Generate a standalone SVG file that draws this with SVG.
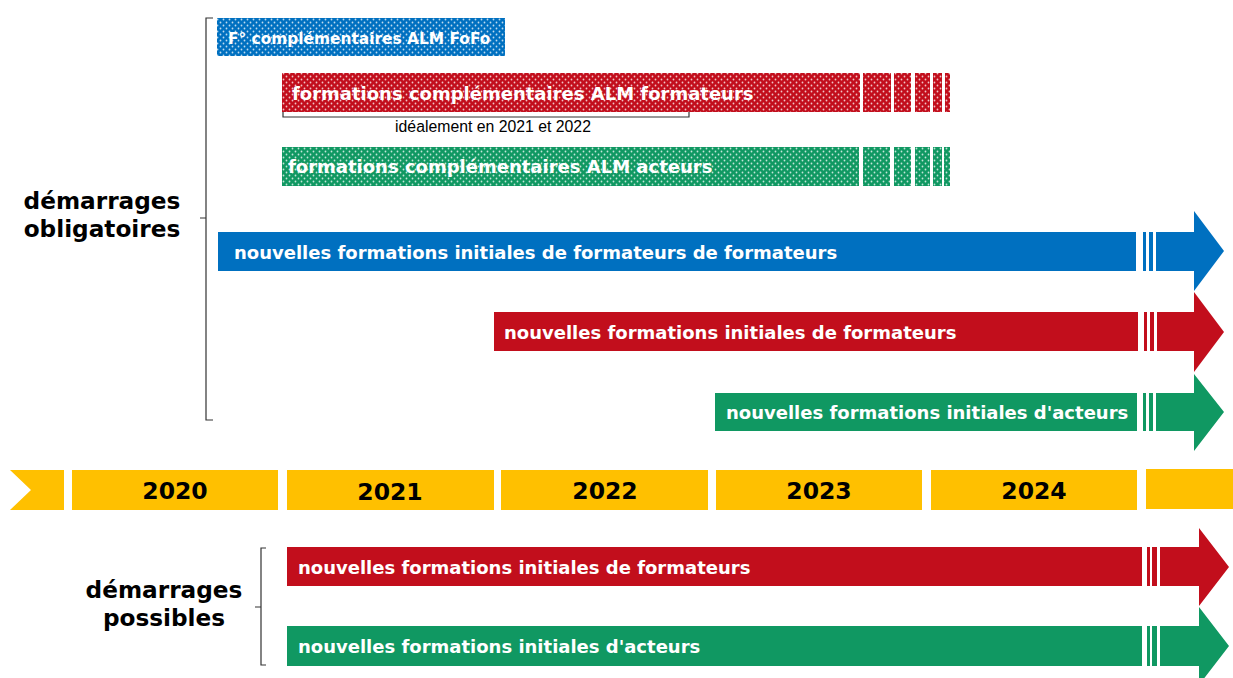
<svg xmlns="http://www.w3.org/2000/svg" width="1233" height="678" viewBox="0 0 1233 678">
<style>
.bar{font-family:"DejaVu Sans",Verdana,sans-serif;font-weight:bold;fill:#fff;font-size:18px}
.small{font-size:15.4px}
.lbl{font-family:"DejaVu Sans",Verdana,sans-serif;font-weight:bold;fill:#000;font-size:23.2px;text-anchor:middle}
.yr{font-family:"DejaVu Sans",Verdana,sans-serif;font-weight:bold;fill:#000;font-size:23.5px;text-anchor:middle}
.note{font-family:"Liberation Sans",Arial,sans-serif;fill:#000;font-size:15.8px;text-anchor:middle}
.br{fill:none;stroke:#333;stroke-width:1.2}
.blue{fill:#0070C0}.red{fill:#C20E1C}.green{fill:#109862}.yel{fill:#FFC000}
</style>
<defs>
<pattern id="dots" width="6" height="6" patternUnits="userSpaceOnUse">
<circle cx="1.5" cy="1.5" r="0.9" fill="#fff" fill-opacity="0.75"/>
<circle cx="4.5" cy="4.5" r="0.9" fill="#fff" fill-opacity="0.75"/>
</pattern>
</defs>
<g id="brackets">
<path class="br" d="M213,18 H206 V420 H213 M206,218 H200"/>
<path class="br" d="M266,548 H261 V665 H266 M261,607 H255"/>
<path class="br" d="M283,110 V117 H689 V110"/>
</g>
<g id="labels">
<text class="lbl" x="102" y="209">démarrages</text>
<text class="lbl" x="102" y="237">obligatoires</text>
<text class="lbl" x="164" y="598">démarrages</text>
<text class="lbl" x="164" y="626">possibles</text>
<text class="note" x="493" y="132">idéalement en 2021 et 2022</text>
</g>
<g id="fofo">
<rect class="blue" x="217" y="18" width="288" height="38"/>
<rect fill="url(#dots)" x="217" y="18" width="288" height="38"/>
<text class="bar small" x="228" y="44">F° complémentaires ALM FoFo</text>
</g>
<g id="compl-formateurs">
<g class="red">
<rect x="282" y="73" width="578" height="39"/>
<rect x="863" y="73" width="28" height="39"/>
<rect x="894" y="73" width="17" height="39"/>
<rect x="915" y="73" width="15" height="39"/>
<rect x="933" y="73" width="9" height="39"/>
<rect x="945" y="73" width="5" height="39"/>
</g>
<g fill="url(#dots)">
<rect x="282" y="73" width="578" height="39"/>
<rect x="863" y="73" width="28" height="39"/>
<rect x="894" y="73" width="17" height="39"/>
<rect x="915" y="73" width="15" height="39"/>
<rect x="933" y="73" width="9" height="39"/>
<rect x="945" y="73" width="5" height="39"/>
</g>
<text class="bar" x="292" y="100">formations complémentaires ALM formateurs</text>
</g>
<g id="compl-acteurs">
<g class="green">
<rect x="282" y="147" width="577" height="39"/>
<rect x="863" y="147" width="27" height="39"/>
<rect x="894" y="147" width="17" height="39"/>
<rect x="915" y="147" width="15" height="39"/>
<rect x="933" y="147" width="9" height="39"/>
<rect x="944" y="147" width="6" height="39"/>
</g>
<g fill="url(#dots)">
<rect x="282" y="147" width="577" height="39"/>
<rect x="863" y="147" width="27" height="39"/>
<rect x="894" y="147" width="17" height="39"/>
<rect x="915" y="147" width="15" height="39"/>
<rect x="933" y="147" width="9" height="39"/>
<rect x="944" y="147" width="6" height="39"/>
</g>
<text class="bar" x="288" y="173">formations complémentaires ALM acteurs</text>
</g>
<g id="arrow-fofo" class="blue">
<rect x="218" y="232" width="918" height="39"/>
<rect x="1143" y="232" width="3" height="39"/>
<rect x="1149" y="232" width="4" height="39"/>
<polygon points="1156,232 1194,232 1194,211 1224,251 1194,291 1194,271 1156,271"/>
<text class="bar" x="234" y="259">nouvelles formations initiales de formateurs de formateurs</text>
</g>
<g id="arrow-formateurs" class="red">
<rect x="494" y="312" width="644" height="39"/>
<rect x="1144" y="312" width="3" height="39"/>
<rect x="1150" y="312" width="4" height="39"/>
<polygon points="1157,312 1194,312 1194,292 1224,332 1194,372 1194,351 1157,351"/>
<text class="bar" x="504" y="339">nouvelles formations initiales de formateurs</text>
</g>
<g id="arrow-acteurs" class="green">
<rect x="715" y="393" width="422" height="38"/>
<rect x="1143" y="393" width="3" height="38"/>
<rect x="1149" y="393" width="4" height="38"/>
<polygon points="1156,393 1194,393 1194,374 1224,412 1194,451 1194,431 1156,431"/>
<text class="bar" x="726" y="419">nouvelles formations initiales d'acteurs</text>
</g>
<g id="timeline">
<polygon class="yel" points="10,470 64,470 64,510 10,510 31,490"/>
<rect class="yel" x="72" y="470" width="206" height="40"/>
<rect class="yel" x="287" y="470" width="207" height="40"/>
<rect class="yel" x="501" y="470" width="207" height="40"/>
<rect class="yel" x="716" y="470" width="206" height="40"/>
<rect class="yel" x="931" y="470" width="206" height="40"/>
<rect class="yel" x="1146" y="469" width="87" height="40"/>
<text class="yr" x="175" y="499">2020</text>
<text class="yr" x="390" y="500">2021</text>
<text class="yr" x="605" y="499">2022</text>
<text class="yr" x="819" y="499">2023</text>
<text class="yr" x="1034" y="499">2024</text>
</g>
<g id="arrow-possible-formateurs" class="red">
<rect x="287" y="547" width="855" height="39"/>
<rect x="1147" y="547" width="3" height="39"/>
<rect x="1152" y="547" width="5" height="39"/>
<polygon points="1160,547 1199,547 1199,528 1229,567 1199,606 1199,586 1160,586"/>
<text class="bar" x="298" y="574">nouvelles formations initiales de formateurs</text>
</g>
<g id="arrow-possible-acteurs" class="green">
<rect x="287" y="626" width="855" height="40"/>
<rect x="1147" y="626" width="3" height="40"/>
<rect x="1152" y="626" width="5" height="40"/>
<polygon points="1160,626 1199,626 1199,607 1229,646 1199,685 1199,666 1160,666"/>
<text class="bar" x="298" y="653">nouvelles formations initiales d'acteurs</text>
</g>
<g id="connectors"></g>
</svg>
